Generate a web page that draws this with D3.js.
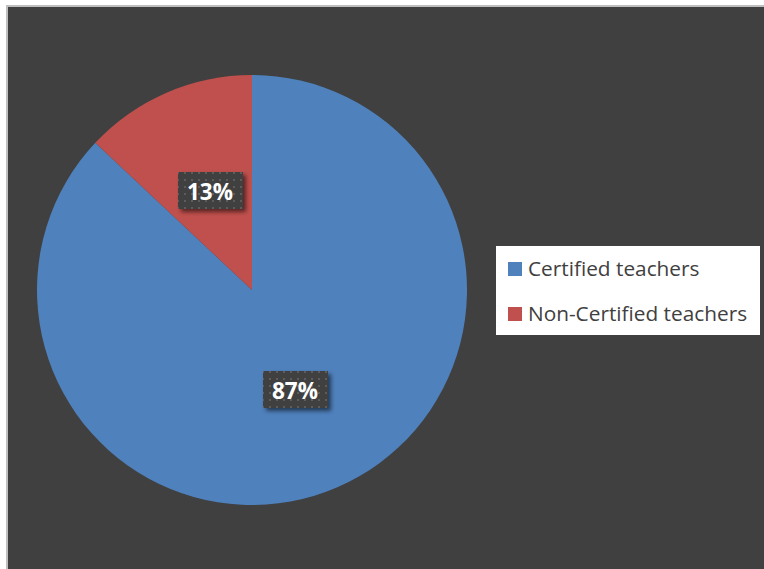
<!DOCTYPE html>
<html>
<head>
<meta charset="utf-8">
<script src="https://cdn.jsdelivr.net/npm/d3@7"></script>
<style>
  html, body { margin: 0; padding: 0; background: #fff; }
  svg { display: block; }
</style>
</head>
<body>
<svg id="chart" width="764" height="569"></svg>
<script>
const categories = ["Certified teachers", "Non-Certified teachers"];
const shares = [87, 13];
const colors = ["#4f81bd", "#c0504d"];

const W = 764, H = 569;
const svg = d3.select("#chart");

// pattern + shadow for the data label boxes
const defs = svg.append("defs");
const pat = defs.append("pattern").attr("id", "dots")
  .attr("width", 7).attr("height", 7).attr("patternUnits", "userSpaceOnUse");
pat.append("rect").attr("width", 7).attr("height", 7).attr("fill", "#404040");
pat.append("rect").attr("x", 2).attr("y", 2).attr("width", 2).attr("height", 2).attr("fill", "#5c5c5c");
const flt = defs.append("filter").attr("id", "shadow")
  .attr("x", "-20%").attr("y", "-20%").attr("width", "150%").attr("height", "160%");
flt.append("feDropShadow").attr("dx", 3).attr("dy", 3).attr("stdDeviation", 2)
  .attr("flood-color", "#000").attr("flood-opacity", 0.55);

// chart area
svg.append("rect").attr("x", 7).attr("y", 6).attr("width", W - 6).attr("height", H - 5)
  .attr("fill", "#404040").attr("stroke", "#bfbfbf").attr("stroke-width", 2);

// pie
const cx = 252, cy = 290, r = 215;
const pie = d3.pie().sort(null).value(d => d)(shares);
const arc = d3.arc().innerRadius(0).outerRadius(r);
const g = svg.append("g").attr("transform", `translate(${cx},${cy})`);
g.selectAll("path").data(pie).join("path")
  .attr("d", arc)
  .attr("fill", (d, i) => colors[i]);

// data labels
const labelPos = [[43, 100], [-42, -99]];
const lab = g.selectAll("g.lab").data(pie).join("g")
  .attr("class", "lab")
  .attr("transform", (d, i) => `translate(${labelPos[i][0]},${labelPos[i][1]})`);
lab.append("rect")
  .attr("x", -32).attr("y", -19).attr("width", 65).attr("height", 37)
  .attr("fill", "url(#dots)").attr("filter", "url(#shadow)");
lab.append("text")
  .attr("text-anchor", "middle").attr("dy", "0.42em")
  .attr("fill", "#fff").attr("font-family", "Open Sans, sans-serif")
  .attr("font-weight", "bold").attr("font-size", 22.5)
  .text(d => d.data + "%");

// legend
const lg = svg.append("g").attr("transform", "translate(496,246)");
lg.append("rect").attr("width", 264).attr("height", 89).attr("fill", "#fff");
const item = lg.selectAll("g.item").data(categories).join("g")
  .attr("class", "item")
  .attr("transform", (d, i) => `translate(12,${23 + i * 45})`);
item.append("rect").attr("y", -7).attr("width", 14).attr("height", 14)
  .attr("fill", (d, i) => colors[i]);
item.append("text").attr("x", 20).attr("dy", "0.35em")
  .attr("fill", "#404040").attr("font-family", "Open Sans, sans-serif")
  .attr("font-size", 20.8)
  .text(d => d);
</script>
</body>
</html>
